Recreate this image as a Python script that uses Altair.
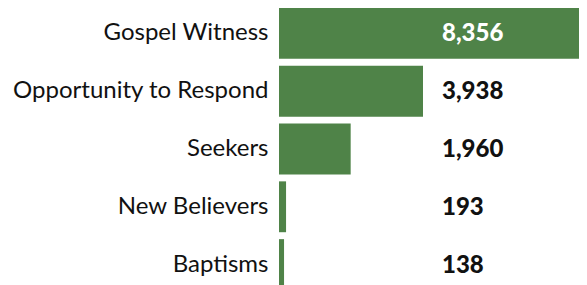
import altair as alt
import pandas as pd

categories = ["Gospel Witness", "Opportunity to Respond", "Seekers", "New Believers", "Baptisms"]
values = [8356, 3938, 1960, 193, 138]

df = pd.DataFrame({"category": categories, "value": values})

y_enc = alt.Y(
    "category:N",
    sort=categories,
    scale=alt.Scale(paddingInner=0.12, paddingOuter=0),
    axis=alt.Axis(
        title=None, domain=False, ticks=False, labelPadding=11,
        labelFont="Lato", labelFontSize=24, labelColor="#111111",
        labelLimit=400,
    ),
)

bars = alt.Chart(df).mark_bar(color="#4f8348").encode(
    x=alt.X("value:Q", scale=alt.Scale(domain=[0, 8204], nice=False), axis=None),
    y=y_enc,
)

labels = alt.Chart(df).mark_text(
    align="left", baseline="alphabetic", dy=8, font="Lato", fontSize=24, fontWeight=900,
).encode(
    x=alt.value(163),
    y=alt.Y("category:N", sort=categories),
    text=alt.Text("value:Q", format=","),
    color=alt.condition("datum.value > 5000", alt.value("white"), alt.value("#111111")),
)

chart = (bars + labels).properties(
    width=300, height=282,
    padding={"left": 271, "top": 0, "right": 0, "bottom": 0},
    autosize="none",
).configure_view(stroke=None)

chart.save("out.html", embed_options={"renderer": "svg", "actions": False})
